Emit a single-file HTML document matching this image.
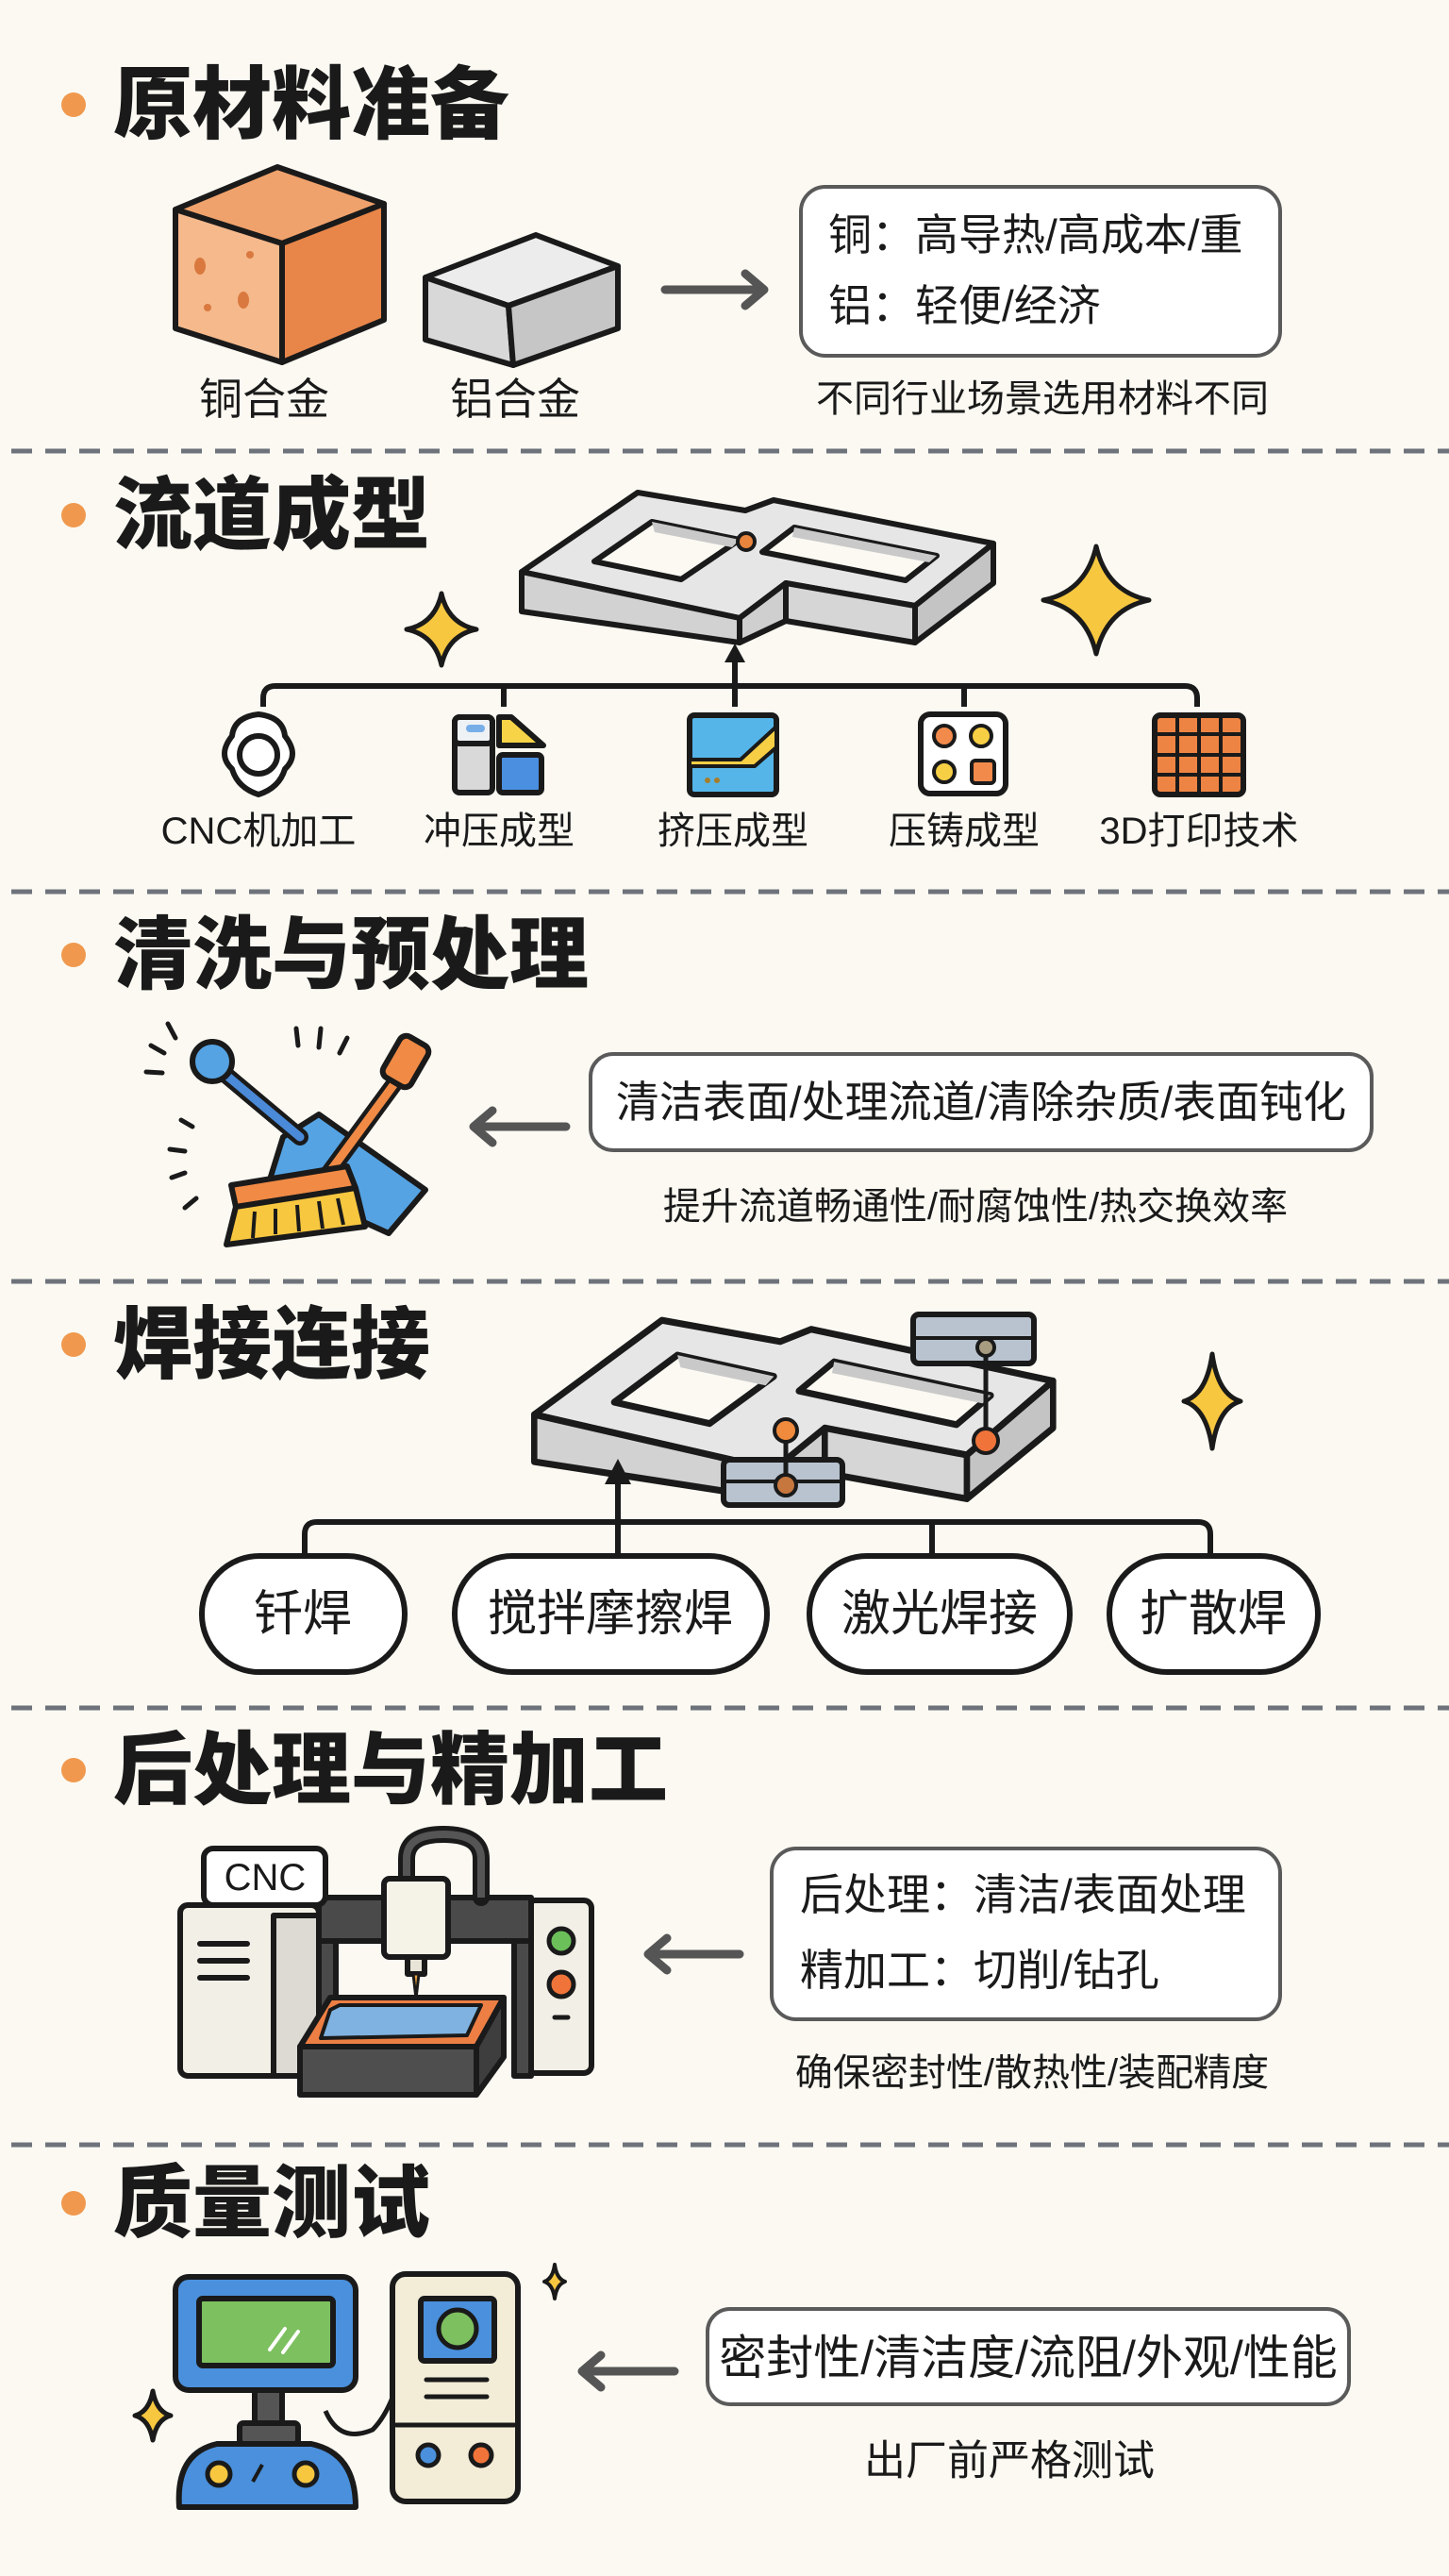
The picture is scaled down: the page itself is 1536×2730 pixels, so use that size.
<!DOCTYPE html>
<html><head><meta charset="utf-8"><style>
html,body{margin:0;padding:0;background:#fbf9f2}
svg{display:block}
text{font-family:"Liberation Sans","Noto Sans CJK SC",sans-serif;fill:#1a1a1a}
.ti{font-size:84px;font-weight:900}
.bx{font-size:46px}
.cap{font-size:40px}
.lb{font-size:40px}
.ol{stroke:#1a1a1a;stroke-width:6;stroke-linejoin:round;stroke-linecap:round}
.dash{stroke:#6e737b;stroke-width:5;stroke-dasharray:22 14}
.arr{stroke:#555;stroke-width:9;fill:none;stroke-linecap:round;stroke-linejoin:round}
.st{fill:#f7c740;stroke:#1a1a1a;stroke-width:5;stroke-linejoin:round}
</style></head><body>
<svg width="1536" height="2730" viewBox="0 0 1536 2730" xmlns="http://www.w3.org/2000/svg">
<defs>
<g id="chan">
 <polygon class="ol" fill="#e6e6e6" points="676,522 790,541 820,530 1053,576 970,642 833,618 784,655 553,606"/>
 <polygon class="ol" fill="#d2d2d2" points="553,606 784,655 784,681 553,648"/>
 <polygon class="ol" fill="#cfcfcf" points="784,655 833,618 833,658 784,681"/>
 <polygon class="ol" fill="#d6d6d6" points="833,618 970,642 970,681 833,658"/>
 <polygon class="ol" fill="#c4c4c4" points="970,642 1053,576 1053,618 970,681"/>
 <polygon class="ol" fill="#fbf9f2" points="691,553 784,572 722,614 630,595"/>
 <polygon fill="#c9c9c9" points="691,553 784,572 776,580 694,564"/>
 <polygon class="ol" fill="#fbf9f2" points="842,559 993,589 960,615 808,585"/>
 <polygon fill="#c9c9c9" points="842,559 993,589 985,596 840,569"/>
</g>
</defs>

<line class="dash" x1="12" y1="478" x2="1536" y2="478"/>
<line class="dash" x1="12" y1="945" x2="1536" y2="945"/>
<line class="dash" x1="12" y1="1358" x2="1536" y2="1358"/>
<line class="dash" x1="12" y1="1810" x2="1536" y2="1810"/>
<line class="dash" x1="12" y1="2273" x2="1536" y2="2273"/>

<g fill="#f0994e">
<circle cx="78" cy="111" r="13"/><circle cx="78" cy="546" r="13"/><circle cx="78" cy="1012" r="13"/>
<circle cx="78" cy="1425" r="13"/><circle cx="78" cy="1876" r="13"/><circle cx="78" cy="2335" r="13"/>
</g>
<text class="ti" x="120" y="111" dominant-baseline="central">原材料准备</text>
<text class="ti" x="120" y="546" dominant-baseline="central">流道成型</text>
<text class="ti" x="120" y="1012" dominant-baseline="central">清洗与预处理</text>
<text class="ti" x="120" y="1425" dominant-baseline="central">焊接连接</text>
<text class="ti" x="120" y="1876" dominant-baseline="central">后处理与精加工</text>
<text class="ti" x="120" y="2335" dominant-baseline="central">质量测试</text>

<!-- Section 1 -->
<polygon class="ol" fill="#f0a26c" points="294,177 407,216 299,258 186,222"/>
<polygon class="ol" fill="#f5b98c" points="186,222 299,258 299,384 186,348"/>
<polygon class="ol" fill="#e8864a" points="299,258 407,216 407,339 299,384"/>
<g fill="#d9793f"><ellipse cx="212" cy="282" rx="6" ry="9"/><ellipse cx="258" cy="318" rx="6" ry="9"/><circle cx="265" cy="270" r="4"/><circle cx="220" cy="326" r="4"/></g>
<polygon class="ol" fill="#ececec" points="568,249 655,282 539,324 451,294"/>
<polygon class="ol" fill="#d8d8d8" points="451,294 539,324 544,387 451,360"/>
<polygon class="ol" fill="#c6c6c6" points="539,324 655,282 655,348 544,387"/>
<text class="bx" x="280" y="423" text-anchor="middle" dominant-baseline="central">铜合金</text>
<text class="bx" x="546" y="423" text-anchor="middle" dominant-baseline="central">铝合金</text>
<path class="arr" d="M705,307 H805 M790,290 L810,307 L790,324"/>
<rect x="849" y="198" width="508" height="179" rx="26" fill="#fff" stroke="#5a5a5a" stroke-width="4"/>
<text class="bx" x="878" y="249" dominant-baseline="central">铜：高导热/高成本/重</text>
<text class="bx" x="878" y="324" dominant-baseline="central">铝：轻便/经济</text>
<text class="cap" x="1105" y="423" text-anchor="middle" dominant-baseline="central">不同行业场景选用材料不同</text>

<!-- Section 2 -->
<use href="#chan"/>
<circle cx="791" cy="574" r="9" fill="#e8843c" stroke="#1a1a1a" stroke-width="4"/>
<path class="st" d="M468,629 Q475,661 505,667 Q475,673 468,705 Q461,673 431,667 Q461,661 468,629Z"/>
<path class="st" d="M1162,579 Q1173,627 1218,636 Q1173,645 1162,693 Q1151,645 1106,636 Q1151,627 1162,579Z"/>
<path d="M279,749 V740 Q279,727 292,727 H1256 Q1269,727 1269,740 V749 M534,727 V749 M1022,727 V749" fill="none" stroke="#1a1a1a" stroke-width="6"/>
<line x1="779" y1="749" x2="779" y2="695" stroke="#1a1a1a" stroke-width="6"/>
<polygon points="779,682 768,702 790,702" fill="#1a1a1a"/>
<g class="ol">
 <path fill="#fff" d="M274,757 Q300,760 302,780 Q318,800 302,815 Q296,835 274,842 Q252,835 246,815 Q230,800 246,780 Q248,760 274,757Z"/>
 <circle cx="274" cy="800" r="20" fill="#fff"/>
 <rect x="482" y="760" width="40" height="80" rx="5" fill="#d9d9d9"/>
 <rect x="482" y="760" width="40" height="28" rx="5" fill="#eef2f5"/>
 <path d="M529,760 L542,760 L576,790 L529,790Z" fill="#f7d447"/>
 <rect x="529" y="800" width="45" height="40" rx="4" fill="#4a8fe0"/>
 <rect x="731" y="758" width="92" height="84" rx="5" fill="#55b5e8"/>
 <path d="M731,805 H785 L823,770 V792 L800,812 H731Z" fill="#f7cf45" stroke-width="4"/>
 <rect x="976" y="757" width="90" height="84" rx="10" fill="#fff"/>
 <rect x="1224" y="758" width="94" height="84" rx="6" fill="#ee8443"/>
</g>
<rect x="494" y="768" width="20" height="8" rx="4" fill="#78aee8"/>
<g fill="#a77d2a"><circle cx="750" cy="827" r="3"/><circle cx="760" cy="827" r="3"/></g>
<g stroke="#1a1a1a" stroke-width="4"><circle cx="1001" cy="780" r="11" fill="#f28a4c"/><circle cx="1040" cy="780" r="11" fill="#f7cf45"/><circle cx="1001" cy="818" r="11" fill="#f7cf45"/><rect x="1030" y="806" width="24" height="24" rx="4" fill="#f28a4c"/></g>
<path d="M1224,778 H1318 M1224,800 H1318 M1224,821 H1318 M1248,758 V842 M1271,758 V842 M1294,758 V842" stroke="#1a1a1a" stroke-width="4"/>
<text class="lb" x="274" y="881" text-anchor="middle" dominant-baseline="central">CNC机加工</text>
<text class="lb" x="529" y="881" text-anchor="middle" dominant-baseline="central">冲压成型</text>
<text class="lb" x="777" y="881" text-anchor="middle" dominant-baseline="central">挤压成型</text>
<text class="lb" x="1022" y="881" text-anchor="middle" dominant-baseline="central">压铸成型</text>
<text class="lb" x="1271" y="881" text-anchor="middle" dominant-baseline="central">3D打印技术</text>

<!-- Section 3 -->
<g stroke="#1a1a1a" stroke-width="5" stroke-linecap="round">
 <path d="M178,1085 L186,1100 M160,1108 L174,1116 M155,1136 L172,1137 M314,1090 L316,1108 M340,1090 L338,1110 M368,1100 L360,1116 M192,1187 L204,1194 M180,1218 L196,1220 M182,1248 L196,1243 M196,1280 L208,1270"/>
</g>
<polygon class="ol" fill="#55a3e3" points="338,1181 451,1261 412,1307 286,1250 300,1205"/>
<line x1="225" y1="1127" x2="318" y2="1205" stroke="#1a1a1a" stroke-width="18" stroke-linecap="round"/>
<line x1="225" y1="1127" x2="318" y2="1205" stroke="#4a8ad8" stroke-width="9" stroke-linecap="round"/>
<circle cx="225" cy="1125" r="21" fill="#55a3e3" stroke="#1a1a1a" stroke-width="6"/>
<line x1="428" y1="1135" x2="345" y2="1248" stroke="#1a1a1a" stroke-width="18" stroke-linecap="round"/>
<line x1="428" y1="1135" x2="345" y2="1248" stroke="#f08a45" stroke-width="9" stroke-linecap="round"/>
<rect x="413" y="1100" width="34" height="50" rx="8" transform="rotate(30 430 1125)" class="ol" fill="#f08a45"/>
<polygon class="ol" fill="#f08a45" points="245,1256 368,1236 377,1259 250,1279"/>
<polygon class="ol" fill="#f7c740" points="250,1279 377,1259 387,1300 240,1319"/>
<g stroke="#1a1a1a" stroke-width="4"><path d="M270,1284 L268,1312 M292,1281 L292,1308 M315,1277 L317,1305 M338,1273 L342,1302 M358,1270 L364,1298"/></g>
<path class="arr" d="M600,1194 H505 M522,1177 L502,1194 L522,1211"/>
<rect x="626" y="1117" width="828" height="102" rx="24" fill="#fff" stroke="#5a5a5a" stroke-width="4"/>
<text class="bx" x="1040" y="1168" text-anchor="middle" dominant-baseline="central">清洁表面/处理流道/清除杂质/表面钝化</text>
<text class="cap" x="1034" y="1279" text-anchor="middle" dominant-baseline="central">提升流道畅通性/耐腐蚀性/热交换效率</text>

<!-- Section 4 -->
<g transform="translate(-42,778) scale(1.1,1.19)"><use href="#chan"/></g>
<g class="ol" stroke-width="5">
 <rect x="968" y="1393" width="128" height="52" rx="6" fill="#b9c3d0"/>
 <rect x="767" y="1547" width="126" height="48" rx="6" fill="#b9c3d0"/>
</g>
<line x1="968" y1="1418" x2="1096" y2="1418" stroke="#1a1a1a" stroke-width="4"/>
<line x1="767" y1="1570" x2="893" y2="1570" stroke="#1a1a1a" stroke-width="4"/>
<line x1="1045" y1="1432" x2="1045" y2="1525" stroke="#1a1a1a" stroke-width="5"/>
<line x1="833" y1="1518" x2="833" y2="1574" stroke="#1a1a1a" stroke-width="5"/>
<circle cx="1045" cy="1428" r="9" fill="#a89c80" stroke="#1a1a1a" stroke-width="4"/>
<circle cx="1045" cy="1527" r="13" fill="#f0743a" stroke="#1a1a1a" stroke-width="4"/>
<circle cx="833" cy="1516" r="12" fill="#f08a3c" stroke="#1a1a1a" stroke-width="4"/>
<circle cx="833" cy="1574" r="11" fill="#c6773e" stroke="#1a1a1a" stroke-width="4"/>
<path class="st" d="M1285,1435 Q1291,1478 1315,1485 Q1291,1492 1285,1535 Q1279,1492 1255,1485 Q1279,1478 1285,1435Z"/>
<path d="M323,1646 V1626 Q323,1613 336,1613 H1270 Q1283,1613 1283,1626 V1646 M988,1613 V1646" fill="none" stroke="#1a1a1a" stroke-width="6"/>
<line x1="655" y1="1646" x2="655" y2="1560" stroke="#1a1a1a" stroke-width="6"/>
<polygon points="655,1546 641,1573 669,1573" fill="#1a1a1a"/>
<g fill="#fff" stroke="#1a1a1a" stroke-width="6">
 <rect x="214" y="1649" width="215" height="123" rx="61"/>
 <rect x="482" y="1649" width="331" height="123" rx="61"/>
 <rect x="858" y="1649" width="276" height="123" rx="61"/>
 <rect x="1176" y="1649" width="221" height="123" rx="61"/>
</g>
<g style="font-size:52px">
<text x="321" y="1711" text-anchor="middle" dominant-baseline="central">钎焊</text>
<text x="647" y="1711" text-anchor="middle" dominant-baseline="central">搅拌摩擦焊</text>
<text x="996" y="1711" text-anchor="middle" dominant-baseline="central">激光焊接</text>
<text x="1286" y="1711" text-anchor="middle" dominant-baseline="central">扩散焊</text>
</g>

<!-- Section 5 -->
<g class="ol">
 <rect x="191" y="2019" width="147" height="181" rx="8" fill="#f2efe6"/>
 <rect x="290" y="2030" width="48" height="170" fill="#dcdad3"/>
 <rect x="559" y="2014" width="68" height="183" rx="8" fill="#f2efe6"/>
 <rect x="338" y="2011" width="225" height="46" fill="#4a4a4a"/>
 <rect x="338" y="2057" width="18" height="143" fill="#4a4a4a"/>
 <rect x="545" y="2057" width="18" height="143" fill="#4a4a4a"/>
 <path d="M431,1992 V1970 Q431,1944 470,1944 Q510,1944 510,1970 V2011" fill="none" stroke="#1a1a1a" stroke-width="18"/>
</g>
<path d="M431,1992 V1970 Q431,1944 470,1944 Q510,1944 510,1970 V2011" fill="none" stroke="#555" stroke-width="8"/>
<g class="ol">
 <rect x="216" y="1959" width="129" height="60" rx="10" fill="#fff"/>
 <rect x="407" y="1991" width="68" height="83" rx="6" fill="#f5f2e8"/>
 <rect x="432" y="2074" width="18" height="18" fill="#e8e4d8"/>
 <polygon points="318,2169 350,2117 534,2117 505,2169" fill="#ee7f44"/>
 <polygon points="350,2130 360,2125 510,2125 495,2157 340,2160" fill="#7fb2e0" stroke-width="4"/>
 <rect x="318" y="2169" width="187" height="51" fill="#4e4e4e"/>
 <polygon points="505,2169 534,2117 534,2180 505,2220" fill="#3e3e3e"/>
 <circle cx="595" cy="2057" r="13" fill="#6cc05a" stroke-width="5"/>
 <circle cx="595" cy="2103" r="13" fill="#f0743a" stroke-width="5"/>
</g>
<path d="M438,2092 L441,2118 L444,2092Z" fill="#e8a040" stroke="#1a1a1a" stroke-width="3"/>
<line x1="588" y1="2138" x2="602" y2="2138" stroke="#1a1a1a" stroke-width="5" stroke-linecap="round"/>
<g stroke="#1a1a1a" stroke-width="6" stroke-linecap="round"><path d="M212,2060 H262 M212,2078 H262 M212,2096 H262"/></g>
<text x="281" y="1990" text-anchor="middle" dominant-baseline="central" style="font-size:40px">CNC</text>
<path class="arr" d="M784,2071 H690 M707,2054 L687,2071 L707,2088"/>
<rect x="818" y="1959" width="539" height="181" rx="26" fill="#fff" stroke="#5a5a5a" stroke-width="4"/>
<text class="bx" x="848" y="2008" dominant-baseline="central">后处理：清洁/表面处理</text>
<text class="bx" x="848" y="2088" dominant-baseline="central">精加工：切削/钻孔</text>
<text class="cap" x="1094" y="2197" text-anchor="middle" dominant-baseline="central">确保密封性/散热性/装配精度</text>

<!-- Section 6 -->
<path d="M345,2555 Q360,2590 395,2575 Q410,2560 420,2530" fill="none" stroke="#1a1a1a" stroke-width="5"/>
<g class="ol">
 <rect x="270" y="2533" width="29" height="40" fill="#555"/>
 <rect x="254" y="2568" width="62" height="22" rx="4" fill="#555"/>
 <rect x="186" y="2413" width="191" height="120" rx="14" fill="#4a90dc"/>
 <rect x="211" y="2436" width="142" height="71" rx="4" fill="#7dc05f"/>
 <path d="M190,2657 Q186,2600 230,2590 H330 Q377,2600 377,2657Z" fill="#4a90dc"/>
 <circle cx="232" cy="2622" r="12" fill="#f7c740" stroke-width="5"/>
 <circle cx="324" cy="2622" r="12" fill="#f7c740" stroke-width="5"/>
 <rect x="416" y="2410" width="133" height="241" rx="14" fill="#f3edd8"/>
 <rect x="446" y="2436" width="78" height="66" rx="4" fill="#4a90dc"/>
 <circle cx="485" cy="2468" r="20" fill="#7dc05f" stroke-width="5"/>
 <circle cx="454" cy="2602" r="11" fill="#4a90dc" stroke-width="5"/>
 <circle cx="510" cy="2602" r="11" fill="#f0743a" stroke-width="5"/>
</g>
<g stroke="#fff" stroke-width="4" stroke-linecap="round"><path d="M286,2490 L302,2468 M300,2493 L316,2471"/></g>
<path d="M268,2630 L278,2612" stroke="#1a1a1a" stroke-width="4"/>
<g stroke="#1a1a1a" stroke-width="5" stroke-linecap="round"><path d="M452,2522 H516 M452,2540 H516 M420,2570 H545"/></g>
<path class="st" style="stroke-width:4" d="M588,2400 Q590,2415 599,2418 Q590,2421 588,2436 Q586,2421 577,2418 Q586,2415 588,2400Z"/>
<path class="st" d="M162,2534 Q166,2556 181,2560 Q166,2564 162,2586 Q158,2564 143,2560 Q158,2556 162,2534Z"/>
<path class="arr" d="M715,2513 H620 M637,2496 L617,2513 L637,2530"/>
<rect x="750" y="2447" width="680" height="101" rx="24" fill="#fff" stroke="#5a5a5a" stroke-width="4"/>
<text x="1090" y="2499" text-anchor="middle" dominant-baseline="central" style="font-size:50px">密封性/清洁度/流阻/外观/性能</text>
<text x="1070" y="2608" text-anchor="middle" dominant-baseline="central" style="font-size:44px">出厂前严格测试</text>
</svg>
</body></html>
